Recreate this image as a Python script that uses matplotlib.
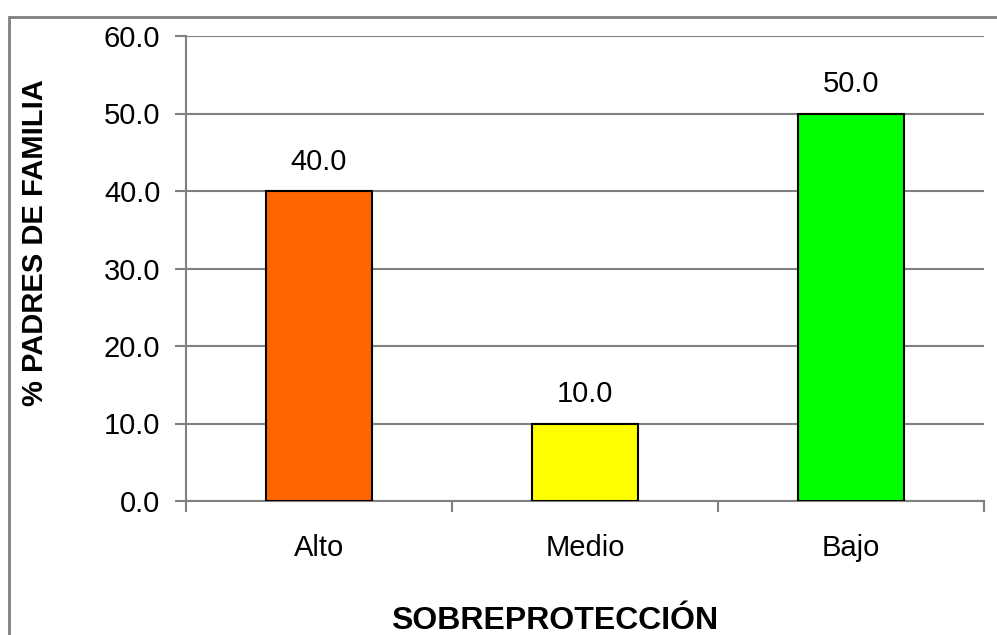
import matplotlib
matplotlib.use('Agg')
import matplotlib.pyplot as plt
from matplotlib.patches import Rectangle

categorias = ['Alto', 'Medio', 'Bajo']
porcentajes = [40.0, 10.0, 50.0]
colores = ['#FF6600', '#FFFF00', '#00FF00']
yticks = [0, 10, 20, 30, 40, 50, 60]

plt.rcParams['font.family'] = ['Liberation Sans', 'DejaVu Sans']

W, H = 997, 635
fig = plt.figure(figsize=(W / 100, H / 100), dpi=100)
ax = fig.add_axes([186 / W, 1 - 501 / H, (984 - 186) / W, (501 - 36) / H])

# borde exterior del grafico
fig.patches.append(Rectangle((9 / W, -0.1), 1.2, 1 - 17 / H + 0.1, transform=fig.transFigure,
                             fill=False, edgecolor='#808080', linewidth=2))

x = list(range(len(categorias)))
ax.bar(x, porcentajes, width=0.4, color=colores, edgecolor='black', linewidth=1.5, zorder=3)
for xi, v in zip(x, porcentajes):
    ax.annotate(f'{v:.1f}', (xi, v), xytext=(0, 21), textcoords='offset points',
                ha='center', va='center', fontsize=21)

ax.set_xlim(-0.5, 2.5)
ax.set_ylim(0, 60)
ax.set_yticks(yticks)
ax.set_yticklabels([f'{t:.1f}' for t in yticks], fontsize=21)
ax.set_xticks([-0.5, 0.5, 1.5, 2.5], minor=False)
ax.set_xticklabels([])
ax.set_xticks(x, minor=True)
ax.set_xticklabels(categorias, minor=True, fontsize=21)
ax.tick_params(axis='x', which='minor', length=0, pad=24)
ax.tick_params(axis='x', which='major', length=8, color='#808080', width=1.5)
ax.tick_params(axis='y', length=8, color='#808080', width=1.5, pad=10.5)
ax.yaxis.grid(True, color='#808080', linewidth=1.5, zorder=0)
ax.set_axisbelow(True)
for s in ['top', 'right']:
    ax.spines[s].set_visible(False)
for s in ['left', 'bottom']:
    ax.spines[s].set_color('#808080')
    ax.spines[s].set_linewidth(1.5)

ax.set_xlabel('SOBREPROTECCIÓN', fontsize=23, fontweight='bold', va='baseline')
ax.xaxis.set_label_coords((555 - 186) / 798, (501 - 629) / 465)
ax.set_ylabel('% PADRES DE FAMILIA', fontsize=21, fontweight='bold', va='center', ha='center')
ax.yaxis.set_label_coords((35.5 - 186) / 798, (501 - 242.5) / 465)

fig.savefig('out.png', dpi=100)
